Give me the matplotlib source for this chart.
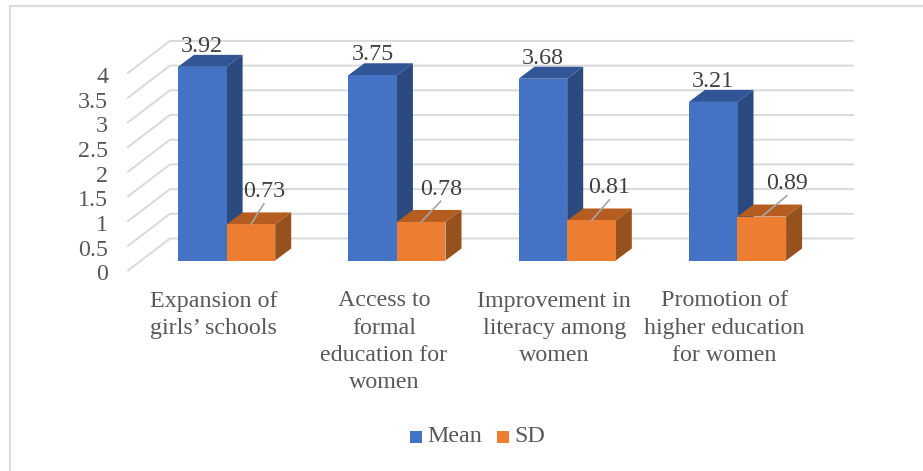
import matplotlib
matplotlib.use("Agg")
import matplotlib.pyplot as plt
from matplotlib.patches import Polygon, Rectangle

plt.rcParams['font.family'] = ['Liberation Serif', 'DejaVu Serif']

categories = ["Expansion of\ngirls’ schools",
              "Access to\nformal\neducation for\nwomen",
              "Improvement in\nliteracy among\nwomen",
              "Promotion of\nhigher education\nfor women"]
mean_vals = [3.92, 3.75, 3.68, 3.21]
sd_vals = [0.73, 0.78, 0.81, 0.89]
y_ticks = [0, 0.5, 1, 1.5, 2, 2.5, 3, 3.5, 4]
y_tick_labels = ["0", "0.5", "1", "1.5", "2", "2.5", "3", "3.5", "4"]

W, H = 923, 471
# pixel scale of the chart
PX_X = 170.3      # px per category
PX_Y = 49.4       # px per unit
X0_PX = 178.0     # left of first blue bar
Y0_PX = 260.5     # front base of the bars
BAR_W = 48.6 / PX_X
DX = 16 / PX_X    # bar depth offset
DY = 12 / PX_Y
FS = 17.3

BLUE, BLUE_TOP, BLUE_SIDE = "#4472C4", "#315597", "#2A4A80"
ORANGE, ORANGE_TOP, ORANGE_SIDE = "#ED7D31", "#B55D20", "#97511C"
GRID = "#D9D9D9"
TEXT = "#595959"
LABEL = "#404040"

fig = plt.figure(figsize=(W / 100, H / 100), dpi=100)
ax = fig.add_axes([0, 0, 1, 1])
ax.set_xlim(-X0_PX / PX_X, (W - X0_PX) / PX_X)
ax.set_ylim(-(H - Y0_PX) / PX_Y, Y0_PX / PX_Y)
ax.axis("off")


def px_x(p):
    return (p - X0_PX) / PX_X


def px_y(p):
    return (Y0_PX - p) / PX_Y


# outer frame, only the top and left edges are in the crop
ax.plot([px_x(10), px_x(10), px_x(923)], [px_y(471), px_y(6), px_y(6)],
        color="#DDDDDD", lw=1.6, zorder=1)

# gridlines along side wall and back wall
wall_dx = 42 / PX_X
wall_dy = 32 / PX_Y
front_x = px_x(128)
front_y0 = px_y(270.5)
right_x = px_x(853)
for v in y_ticks:
    yf = front_y0 + v
    ax.plot([front_x, front_x + wall_dx, right_x],
            [yf, yf + wall_dy, yf + wall_dy],
            color=GRID, lw=1.4, solid_joinstyle="miter", zorder=2)


def box(x, w, h, front, top, side):
    ax.add_patch(Polygon([(x, h), (x + DX, h + DY), (x + w + DX, h + DY), (x + w, h)],
                         fc=top, ec="none", zorder=4))
    ax.add_patch(Polygon([(x + w, 0), (x + w + DX, DY), (x + w + DX, h + DY), (x + w, h)],
                         fc=side, ec="none", zorder=4))
    ax.add_patch(Rectangle((x, 0), w, h, fc=front, ec="none", zorder=5))


leader_dx = [13, 19.5, 18, 25]   # px, how far each SD label sits right of its bar

for i in range(len(categories)):
    box(i, BAR_W, mean_vals[i], BLUE, BLUE_TOP, BLUE_SIDE)
    box(i + BAR_W, BAR_W, sd_vals[i], ORANGE, ORANGE_TOP, ORANGE_SIDE)

    # value labels
    ax.text(i + BAR_W * 0.5, mean_vals[i] + 0.2, f"{mean_vals[i]:.2f}",
            ha="center", va="bottom", fontsize=FS, color=LABEL, zorder=7)
    sx = i + BAR_W * 1.5
    ax.text(sx + leader_dx[i] / PX_X, sd_vals[i] + 0.45, f"{sd_vals[i]:.2f}",
            ha="center", va="bottom", fontsize=FS, color=LABEL, zorder=7)
    ax.plot([sx, sx + leader_dx[i] / PX_X], [sd_vals[i], sd_vals[i] + 0.42],
            color="#A6A6A6", lw=1.2, zorder=6)

    # category labels
    ax.text(i + BAR_W - 13 / PX_X, px_y(290.5), categories[i], ha="center", va="top",
            fontsize=FS, color=TEXT, linespacing=1.39, zorder=7)

# y axis labels
for v, lab in zip(y_ticks, y_tick_labels):
    ax.text(px_x(108), front_y0 + v - 4.5 / PX_Y, lab, ha="right", va="center",
            fontsize=FS, color=TEXT, zorder=7)

# legend
ax.add_patch(Rectangle((px_x(410), px_y(443)), 12 / PX_X, 12 / PX_Y, fc=BLUE, ec="none"))
ax.text(px_x(427), px_y(436), "Mean", ha="left", va="center", fontsize=FS, color=TEXT)
ax.add_patch(Rectangle((px_x(497), px_y(443)), 12 / PX_X, 12 / PX_Y, fc=ORANGE, ec="none"))
ax.text(px_x(514), px_y(436), "SD", ha="left", va="center", fontsize=FS, color=TEXT)

fig.savefig("out.png", dpi=100)
